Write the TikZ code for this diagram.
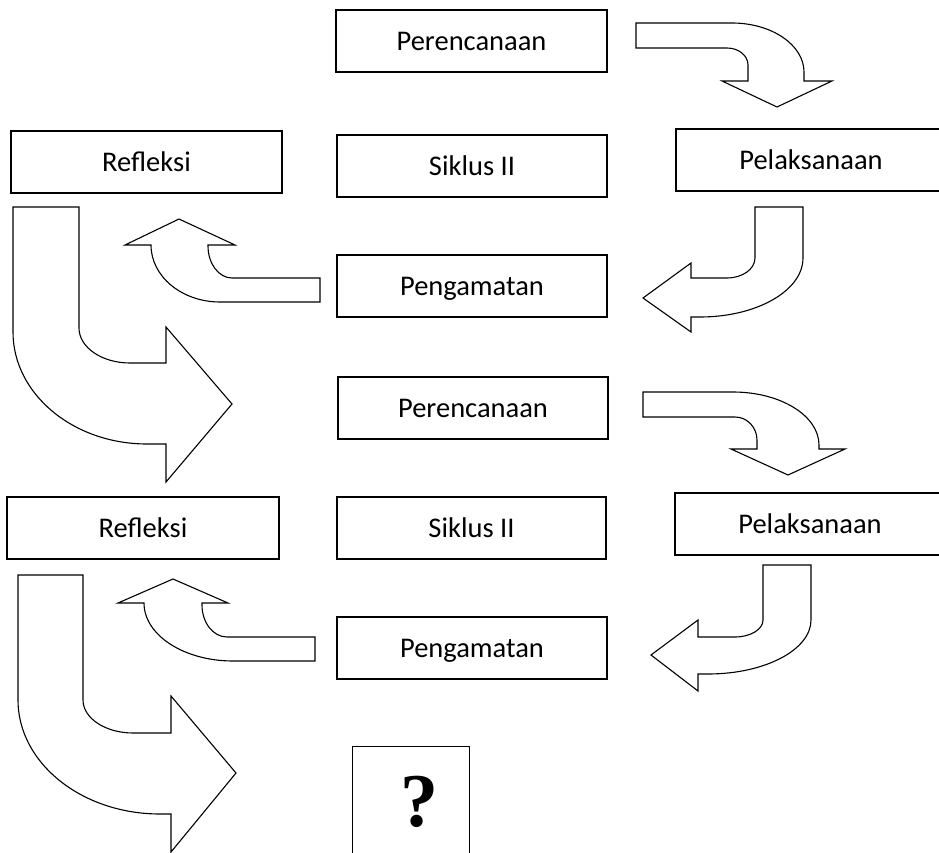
\documentclass[tikz,border=0pt]{standalone}
\usepackage{fontspec}
\setmainfont{Carlito}
\newfontfamily\qfont{Liberation Serif}
\begin{document}
\begin{tikzpicture}[x=1pt,y=-1pt,
  box/.style={draw, line width=1.4pt, minimum height=62pt, inner sep=0pt,
    font=\fontsize{28.5}{34}\selectfont, text height=18.4pt, text depth=0pt},
  arr/.style={draw, line width=1.1pt, fill=white, line join=miter}]
\clip (0,0) rectangle (939,853);
\fill[white] (0,0) rectangle (939,853);
% boxes
\node[box, minimum width=271pt] (p1) at (471.5,41) {Perencanaan};
\node[box, minimum width=270pt] (s1) at (472,166) {Siklus II};
\node[box, minimum width=271pt] (r1) at (146.5,162) {Refleksi};
\node[box, minimum width=270pt] (l1) at (811,160) {Pelaksanaan};
\node[box, minimum width=270pt] (g1) at (472,286) {Pengamatan};
\node[box, minimum width=270pt] (p2) at (473,408) {Perencanaan};
\node[box, minimum width=272pt] (r2) at (143,528) {Refleksi};
\node[box, minimum width=269pt] (s2) at (471.5,528) {Siklus II};
\node[box, minimum width=270pt] (l2) at (810,524) {Pelaksanaan};
\node[box, minimum width=270pt] (g2) at (472,648) {Pengamatan};
\node[draw, line width=1.4pt, minimum width=117pt, minimum height=124pt, inner sep=0pt,
  anchor=north west] (q) at (352,746) {};
\node[font=\qfont\bfseries\fontsize{76}{80}\selectfont, inner sep=0pt] (qm) at (419,802) {?};
% arrow 1: Perencanaan -> Pelaksanaan
\path[arr] (636,23) -- (732,23) .. controls (771.7,23) and (804,45) .. (804,72)
  -- (804,81) -- (832,81) -- (777,107) -- (722,81) -- (748,81) -- (748,65)
  .. controls (748,55.6) and (738.6,48) .. (727,48) -- (636,48) -- cycle;
% arrow 2: Pelaksanaan -> Pengamatan
\path[arr] (755,207) -- (755,258) .. controls (755,269) and (742.5,278) .. (727,278)
  -- (691,278) -- (691,263) -- (643,298) -- (691,332) -- (691,317) -- (700,317)
  .. controls (756.9,317) and (803,290.6) .. (803,258) -- (803,207) -- cycle;
% arrow 3: Pengamatan -> Refleksi
\path[arr] (320,278) -- (232,278) .. controls (218.8,278) and (208,263.7) .. (208,246)
  -- (208,245) -- (235,245) -- (179,219) -- (125,245) -- (151,245)
  .. controls (151,276.5) and (181.9,302) .. (220,302) -- (320,302) -- cycle;
% arrow 4: Refleksi -> Perencanaan
\path[arr] (79,207) -- (79,328) .. controls (79,347.3) and (101.8,363) .. (130,363)
  -- (166,363) -- (166,327) -- (232,404) -- (166,482) -- (166,444) -- (147,444)
  .. controls (73,444) and (13,393.8) .. (13,332) -- (13,207) -- cycle;
% arrow 5
\path[arr] (643,392) -- (733,392) .. controls (780.5,392) and (819,415.7) .. (819,445)
  -- (819,449) -- (845,449) -- (788,475) -- (731,449) -- (757,449) -- (757,440)
  .. controls (757,427.3) and (747.1,417) .. (735,417) -- (643,417) -- cycle;
% arrow 6
\path[arr] (763,565) -- (763,620) .. controls (763,629.4) and (750.5,637) .. (735,637)
  -- (698,637) -- (698,620) -- (651,655) -- (698,691) -- (698,674) -- (708,674)
  .. controls (764.9,674) and (811,649.8) .. (811,620) -- (811,565) -- cycle;
% arrow 7
\path[arr] (315,637) -- (227,637) .. controls (213.2,637) and (202,622.7) .. (202,605)
  -- (202,603) -- (228,603) -- (173,579) -- (118,603) -- (144,603)
  .. controls (144,635) and (183.9,661) .. (233,661) -- (315,661) -- cycle;
% arrow 8
\path[arr] (83,575) -- (83,700) .. controls (83,718.2) and (105.4,733) .. (133,733)
  -- (171,733) -- (171,696) -- (236,773) -- (171,852) -- (171,814) -- (160,814)
  .. controls (81.6,814) and (18,762.9) .. (18,700) -- (18,575) -- cycle;
\end{tikzpicture}
\end{document}
